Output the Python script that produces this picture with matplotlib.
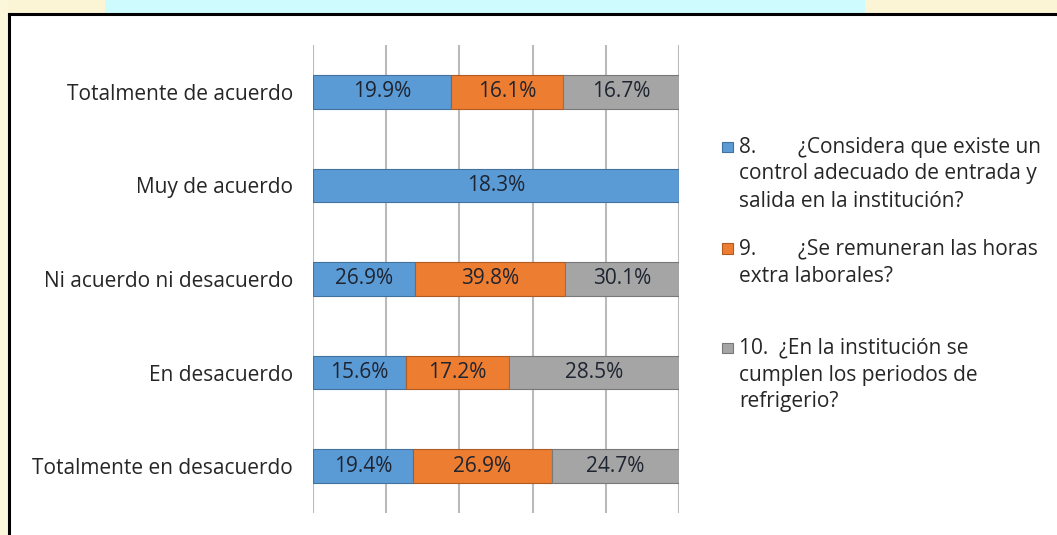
import matplotlib
matplotlib.use("Agg")
import matplotlib.pyplot as plt
from matplotlib.patches import Rectangle
from matplotlib.lines import Line2D
import numpy as np

categories = ["Totalmente de acuerdo", "Muy de acuerdo", "Ni acuerdo ni desacuerdo",
              "En desacuerdo", "Totalmente en desacuerdo"]
q8 = [19.9, 18.3, 26.9, 15.6, 19.4]
q9 = [16.1, 0.0, 39.8, 17.2, 26.9]
q10 = [16.7, 0.0, 30.1, 28.5, 24.7]
series_names = [["8.\u2003\u2003¿Considera que existe un", "control adecuado de entrada y",
                 "salida en la institución?"],
                ["9.\u2003\u2003¿Se remuneran las horas", "extra laborales?"],
                ["10.  ¿En la institución se", "cumplen los periodos de", "refrigerio?"]]
colors = ["#5B9BD5", "#ED7D31", "#A5A5A5"]
edges = ["#41719C", "#AE5A21", "#787878"]

plt.rcParams['font.family'] = ['Open Sans', 'DejaVu Sans']
FS = 15

W, H = 1057, 535
fig = plt.figure(figsize=(W / 100, H / 100), dpi=100)
fig.patch.set_facecolor("white")

# background outside the framed chart
fig.add_artist(Rectangle((0, 1 - 13 / H), 1, 13 / H, transform=fig.transFigure,
                         facecolor="#fbf5d6", edgecolor="none", zorder=0))
fig.add_artist(Rectangle((105 / W, 1 - 13 / H), (865 - 105) / W, 13 / H, transform=fig.transFigure,
                         facecolor="#cdfbfe", edgecolor="none", zorder=0))
fig.add_artist(Rectangle((0, 0), 8 / W, 1, transform=fig.transFigure,
                         facecolor="#fcf6da", edgecolor="none", zorder=0))
fig.add_artist(Line2D([8.5 / W, 1], [1 - 14 / H, 1 - 14 / H], transform=fig.transFigure,
                      color="black", lw=2.2, zorder=5))
fig.add_artist(Line2D([8.5 / W, 8.5 / W], [0, 1 - 14 / H], transform=fig.transFigure,
                      color="black", lw=2.2, zorder=5))

ax_l, ax_r = 313 / W, 679 / W
ax_t, ax_b = 1 - 45 / H, 1 - 513 / H
ax = fig.add_axes([ax_l, ax_b, ax_r - ax_l, ax_t - ax_b])

data = np.array([q8, q9, q10])
totals = data.sum(axis=0)
frac = data / totals
y = np.arange(len(categories))
left = np.zeros(len(categories))
for i in range(3):
    bars = ax.barh(y, frac[i], left=left, height=0.36, color=colors[i],
                   edgecolor=edges[i], linewidth=0.8, zorder=3)
    for j, b in enumerate(bars):
        if data[i, j] > 0:
            ax.text(left[j] + frac[i, j] / 2, y[j], f"{data[i, j]:.1f}%",
                    ha="center", va="center", fontsize=FS, color="#1e2430", zorder=4)
    left += frac[i]

ax.set_xlim(0, 1.0)
ax.set_ylim(len(categories) - 0.5, -0.5)
ax.set_xticks(np.arange(0, 1.01, 0.2))
ax.xaxis.grid(True, color="#bababa", lw=1.5, zorder=0)
ax.set_axisbelow(True)
ax.tick_params(axis="x", length=0, labelbottom=False)
ax.tick_params(axis="y", length=0, pad=14.5)
ax.set_yticks(y)
ax.set_yticklabels(categories, fontsize=FS, color="#262626")
for s in ax.spines.values():
    s.set_visible(False)
ax.patch.set_alpha(0)

# legend drawn manually
legend_y = [147, 249, 348]
line_h = 27
for i in range(3):
    yy = legend_y[i]
    fig.add_artist(Rectangle((722 / W, 1 - (yy + 5) / H), 10.5 / W, 10.5 / H,
                             transform=fig.transFigure, facecolor=colors[i],
                             edgecolor=edges[i], lw=0.8, zorder=6))
    for k, line in enumerate(series_names[i]):
        fig.text(739 / W, 1 - (yy + k * line_h) / H, line, ha="left", va="center",
                 fontsize=FS, color="#262626")

fig.savefig("out.png", dpi=100)
